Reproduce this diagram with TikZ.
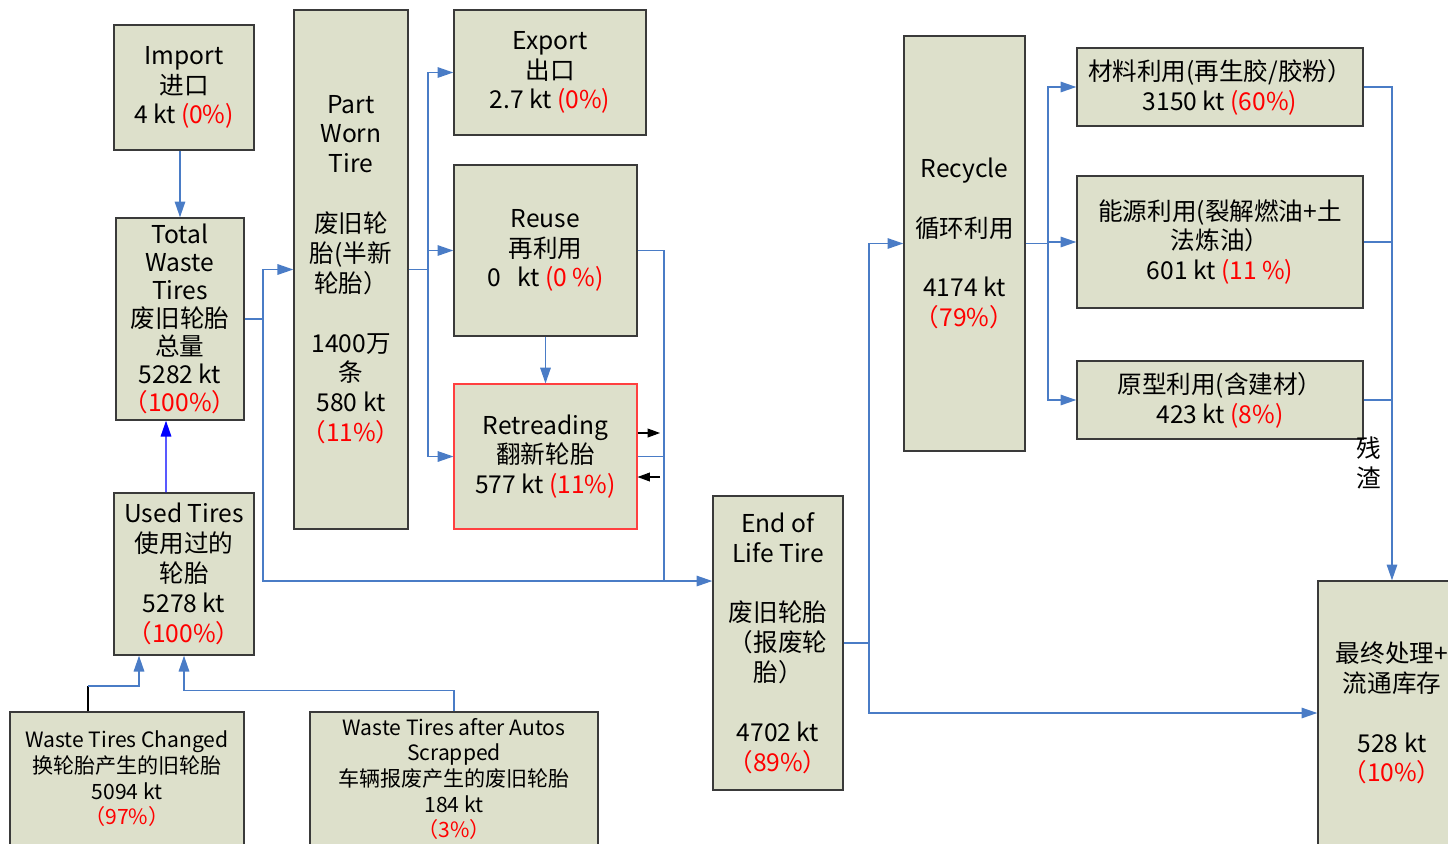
\documentclass[tikz,border=0pt]{standalone}
\usepackage{fontspec}
\setmainfont{Noto Sans CJK SC}
\usepackage{xcolor}
\usetikzlibrary{arrows.meta, positioning}
\definecolor{boxfill}{HTML}{DDE0CB}
\definecolor{flowblue}{HTML}{4A7CC6}
\definecolor{boxline}{HTML}{3A3A3A}
\definecolor{retreadred}{HTML}{FF4040}
\newcommand{\pct}[1]{\textcolor{red}{#1}}

\begin{document}
\begin{tikzpicture}[x=0.02cm, y=-0.02cm,
  stock/.style={draw=boxline, fill=boxfill, line width=0.8pt, inner sep=0pt,
                align=center, font=\fontsize{14}{17}\selectfont},
  source/.style={stock, font=\fontsize{12}{14.6}\selectfont},
  flow/.style={draw=flowblue, line width=0.8pt, -{Triangle[length=9pt, width=6pt]}},
  joint/.style={draw=flowblue, line width=0.8pt},
  loop/.style={draw=black, line width=0.6pt, -{Triangle[length=7pt, width=5pt]}},
]
\useasboundingbox (0,0) rectangle (1448,843);
\clip (0,0) rectangle (1448,843);

% stocks
\node[stock, minimum width=2.8cm, minimum height=2.5cm] (import) at (184,87.5) {Import\\进口\\4 kt \pct{(0\%)}};
\node[stock, minimum width=2.56cm, minimum height=4.04cm, font=\fontsize{14}{16}\selectfont] (total) at (180,319) {Total\\Waste\\Tires\\废旧轮胎\\总量\\5282 kt\\\pct{（100\%）}};
\node[stock, minimum width=2.8cm, minimum height=3.24cm] (used) at (184,574) {Used Tires\\使用过的\\轮胎\\5278 kt\\\pct{（100\%）}};
\node[source, minimum width=4.68cm, minimum height=2.68cm] (changed) at (127,779) {Waste Tires Changed\\换轮胎产生的旧轮胎\\5094 kt\\\pct{（97\%）}};
\node[source, minimum width=5.76cm, minimum height=2.68cm] (scrapped) at (454,779) {Waste Tires after Autos\\Scrapped\\车辆报废产生的废旧轮胎\\184 kt\\\pct{（3\%）}};
\node[stock, minimum width=2.28cm, minimum height=10.38cm] (partworn) at (351,269.5) {Part\\Worn\\Tire\\[17pt]废旧轮\\胎(半新\\轮胎）\\[17pt]1400万\\条\\580 kt\\\pct{（11\%）}};
\node[stock, minimum width=3.84cm, minimum height=2.5cm] (export) at (550,72.5) {Export\\出口\\2.7 kt \pct{(0\%)}};
\node[stock, minimum width=3.66cm, minimum height=3.42cm] (reuse) at (545.5,250.5) {Reuse\\再利用\\0\ \ \ kt \pct{(0 \%)}};
\node[stock, draw=retreadred, line width=0.6pt, minimum width=3.66cm, minimum height=2.9cm] (retread) at (545.5,456.5) {Retreading\\翻新轮胎\\577 kt \pct{(11\%)}};
\node[stock, minimum width=2.6cm, minimum height=5.88cm] (eol) at (778,643) {End of\\Life Tire\\[17pt]废旧轮胎\\（报废轮\\胎）\\[17pt]4702 kt\\\pct{（89\%）}};
\node[stock, minimum width=2.42cm, minimum height=8.3cm] (recycle) at (964.5,243.5) {Recycle\\[17pt]循环利用\\[17pt]4174 kt\\\pct{（79\%）}};
\node[stock, minimum width=5.72cm, minimum height=1.56cm] (material) at (1220,87) {材料利用(再生胶/胶粉）\\3150 kt \pct{(60\%)}};
\node[stock, minimum width=5.72cm, minimum height=2.64cm] (energy) at (1220,242) {能源利用(裂解燃油+土\\法炼油）\\601 kt \pct{(11 \%)}};
\node[stock, minimum width=5.72cm, minimum height=1.56cm] (original) at (1220,400) {原型利用(含建材）\\423 kt \pct{(8\%)}};
\node[stock, minimum width=2.96cm, minimum height=5.28cm] (final) at (1392,713) {最终处理+\\流通库存\\[17pt]528 kt\\\pct{（10\%）}};
\node[align=center, font=\fontsize{14}{17}\selectfont] (residue) at (1369,463) {残\\渣};

% junctions
\coordinate (chbend) at (88,686);
\coordinate (split1) at (263,319);
\coordinate (split2) at (428,269.5);
\coordinate (merge1) at (664,581);
\coordinate (rtout) at (660,433);
\coordinate (rtin) at (660,477);
\coordinate (split3) at (869,643);
\coordinate (split4) at (1048,243.5);

% flows
\draw[flow] (import.south -| total.north) -- (total.north);
\draw[flow, draw=blue] ([xshift=-0.36cm]used.north) -- ([xshift=-0.28cm]total.south);
\draw[line width=0.8pt] (changed.north -| chbend) -- (chbend);
\draw[flow] (chbend) -| ([xshift=-0.9cm]used.south);
\draw[flow] (scrapped.north) -- ++(0,0.42cm) -| (used.south);

\draw[flow] (total.east) -- (split1) |- (partworn.west);
\draw[flow] (split1) |- ([yshift=1.24cm]eol.west);
\draw[joint] (partworn.east) -- (split2);
\draw[flow] (split2) |- (export.west);
\draw[flow] (split2) |- (reuse.west);
\draw[flow] (split2) |- (retread.west);
\draw[flow] (reuse.south) -- (retread.north);
\draw[joint] (reuse.east) -| (merge1);
\draw[joint] (retread.east) -| (merge1);
\draw[loop] (retread.east |- rtout) -- (rtout);
\draw[loop] (rtin) -- (retread.east |- rtin);

\draw[joint] (eol.east) -- (split3);
\draw[flow] (split3) |- (recycle.west);
\draw[flow] (split3) |- (final.west);
\draw[joint] (recycle.east) -- (split4);
\draw[flow] (split4) |- (material.west);
\draw[flow] (split4) |- (energy.west);
\draw[flow] (split4) |- (original.west);
\draw[flow] (material.east) -| (final.north);
\draw[joint] (energy.east) -- (energy.east -| final.north);
\draw[joint] (original.east) -- (original.east -| final.north);

\end{tikzpicture}
\end{document}
